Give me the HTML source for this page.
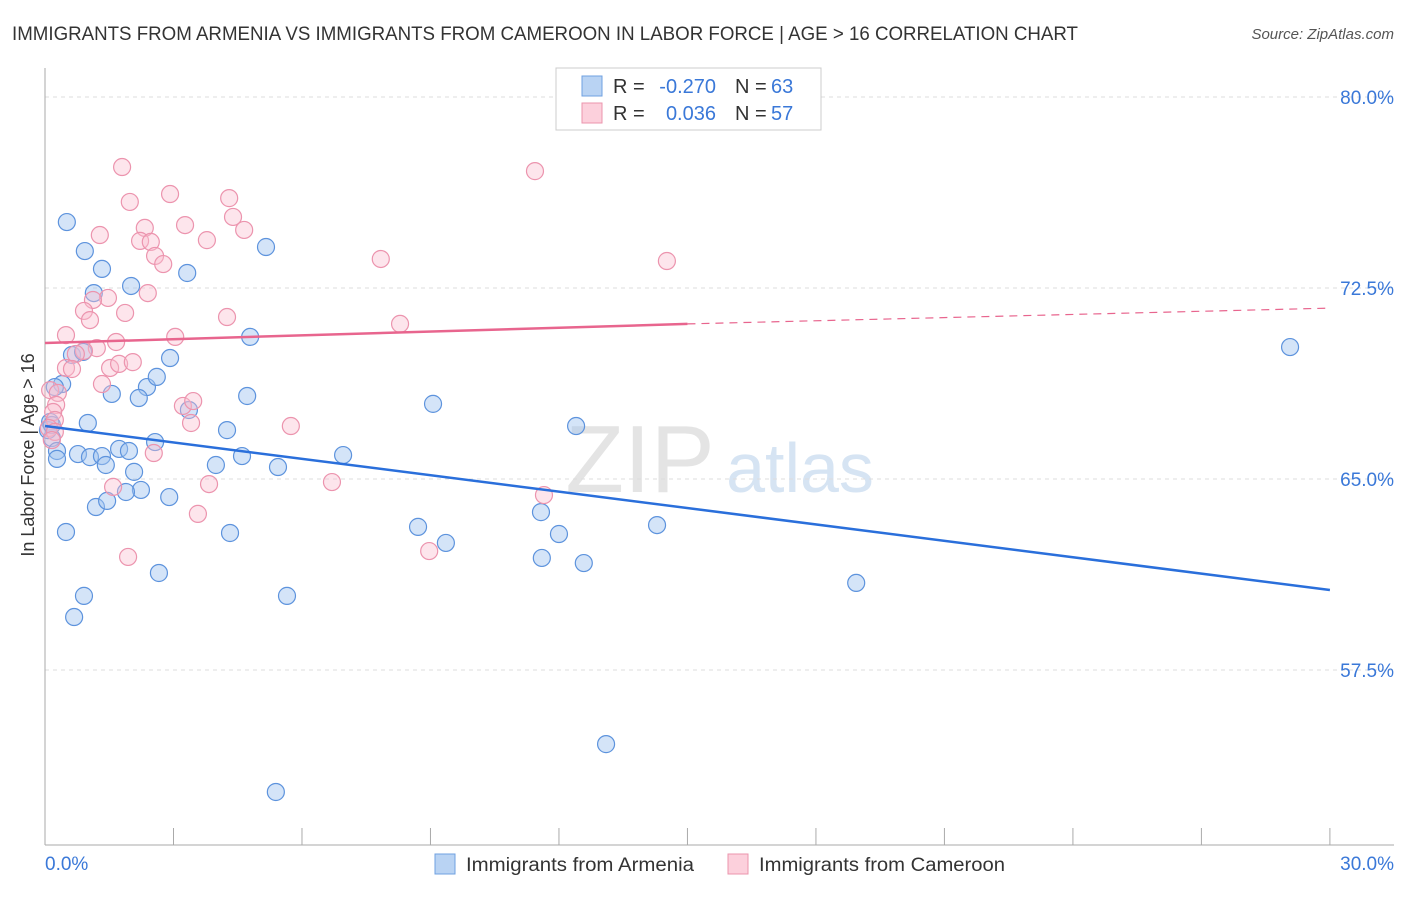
<!DOCTYPE html>
<html><head><meta charset="utf-8"><style>
body{margin:0;background:#fff;font-family:"Liberation Sans",sans-serif}
svg text{font-family:"Liberation Sans",sans-serif}
</style></head><body>
<svg id="chart" width="1406" height="892">
<text x="12" y="40" font-size="19" fill="#333" textLength="1066" lengthAdjust="spacingAndGlyphs">IMMIGRANTS FROM ARMENIA VS IMMIGRANTS FROM CAMEROON IN LABOR FORCE | AGE &gt; 16 CORRELATION CHART</text>
<text x="1394" y="39" font-size="15" fill="#555" font-style="italic" text-anchor="end">Source: ZipAtlas.com</text>
<text x="640" y="492" font-size="96" fill="#e4e4e4" font-family="Liberation Serif" text-anchor="middle">ZIP</text>
<text x="800" y="492" font-size="70" fill="#d6e4f3" text-anchor="middle">atlas</text>
<g id="grid"></g><g id="axes"></g><g id="pts"></g><g id="lines"></g>
<text x="34" y="455" font-size="18" fill="#333" text-anchor="middle" transform="rotate(-90 34 455)">In Labor Force | Age &gt; 16</text>
<text x="45" y="870" font-size="19" fill="#3a78d8">0.0%</text>
<text x="1394" y="870" font-size="19" fill="#3a78d8" text-anchor="end">30.0%</text>
<g>
<rect x="556" y="68" width="265" height="62" fill="#fff" stroke="#ccc"/>
<rect x="582" y="76" width="20" height="20" fill="#b9d3f3" stroke="#6fa0e0"/>
<rect x="582" y="103" width="20" height="20" fill="#fcd0dc" stroke="#eb95ad"/>
<text x="613" y="93" font-size="20" fill="#333">R =</text>
<text x="716" y="93" font-size="20" fill="#3a78d8" text-anchor="end">-0.270</text>
<text x="735" y="93" font-size="20" fill="#333">N =</text>
<text x="771" y="93" font-size="20" fill="#3a78d8">63</text>
<text x="613" y="120" font-size="20" fill="#333">R =</text>
<text x="716" y="120" font-size="20" fill="#3a78d8" text-anchor="end">0.036</text>
<text x="735" y="120" font-size="20" fill="#333">N =</text>
<text x="771" y="120" font-size="20" fill="#3a78d8">57</text>
</g>
<g>
<rect x="435" y="854" width="20" height="20" fill="#b9d3f3" stroke="#6fa0e0"/>
<text x="466" y="871" font-size="19" fill="#333" textLength="228" lengthAdjust="spacingAndGlyphs">Immigrants from Armenia</text>
<rect x="728" y="854" width="20" height="20" fill="#fcd0dc" stroke="#eb95ad"/>
<text x="759" y="871" font-size="19" fill="#333" textLength="246" lengthAdjust="spacingAndGlyphs">Immigrants from Cameroon</text>
</g>
</svg>
<script>
const yTicks=[80,72.5,65,57.5];
const yTickLabels=["80.0%","72.5%","65.0%","57.5%"];
const xTicks=[0,3,6,9,12,15,18,21,24,27,30];
const bluePx=[[67,222],[85,251],[102,269],[94,293],[131,286],[187,273],[266,247],[250,337],[170,358],[72,355],[83,352],[62,384],[55,387],[112,394],[147,387],[157,377],[139,398],[247,396],[189,410],[227,430],[88,423],[50,422],[52,438],[57,451],[57,459],[78,454],[90,457],[102,456],[119,449],[129,451],[106,465],[134,472],[155,442],[216,465],[242,456],[278,467],[343,455],[141,490],[126,492],[96,507],[107,501],[169,497],[66,532],[230,533],[159,573],[84,596],[74,617],[287,596],[433,404],[576,426],[418,527],[446,543],[541,512],[559,534],[542,558],[584,563],[657,525],[856,583],[1290,347],[606,744],[276,792],[48,430],[52,425]];
const pinkPx=[[122,167],[535,171],[130,202],[170,194],[229,198],[145,228],[185,225],[233,217],[100,235],[140,241],[151,242],[155,256],[163,264],[207,240],[244,230],[381,259],[667,261],[148,293],[108,298],[93,300],[84,311],[90,320],[125,313],[227,317],[400,324],[66,335],[175,337],[116,342],[97,348],[84,351],[76,354],[66,368],[72,369],[110,368],[119,364],[133,362],[102,384],[50,390],[58,393],[56,405],[53,412],[55,420],[49,428],[55,432],[183,406],[193,401],[191,423],[291,426],[154,453],[332,482],[209,484],[113,487],[544,495],[198,514],[128,557],[429,551],[52,440]];
// convert read pixel positions to data values (x %, y %)
const armeniaX=bluePx.map(p=>+((p[0]-45)/42.83).toFixed(2));
const armeniaY=bluePx.map(p=>+(80-(p[1]-97)/25.467).toFixed(2));
const cameroonX=pinkPx.map(p=>+((p[0]-45)/42.83).toFixed(2));
const cameroonY=pinkPx.map(p=>+(80-(p[1]-97)/25.467).toFixed(2));
const blueTrend=[[0,67.08],[30,60.64]];
const pinkTrend=[[0,70.34],[15,71.09],[30,71.71]];
const sx=v=>45+v*42.83, sy=v=>97+(80-v)*25.467;
const NS='http://www.w3.org/2000/svg';
function mk(t,a,parent){const e=document.createElementNS(NS,t);for(const k in a)e.setAttribute(k,a[k]);document.getElementById(parent).appendChild(e);return e;}
yTicks.forEach((t,i)=>{
 const g=mk('line',{x1:45,x2:1394,y1:sy(t),y2:sy(t),stroke:'#ddd','stroke-dasharray':'4,4'},'grid');
 
 
 const l=mk('text',{x:1394,y:sy(t)+7,'font-size':19,fill:'#3a78d8','text-anchor':'end'},'axes');
 l.textContent=yTickLabels[i];
 
 
});
const ax=mk('line',{x1:45,x2:45,y1:68,y2:845,stroke:'#aaa'},'axes');


const bx=mk('line',{x1:45,x2:1394,y1:845,y2:845,stroke:'#aaa'},'axes');


xTicks.forEach(t=>{
 const k=mk('line',{x1:sx(t),x2:sx(t),y1:828,y2:845,stroke:'#aaa'},'axes');
 
 
});
armeniaX.forEach((x,i)=>{
 const c=mk('circle',{cx:sx(x),cy:sy(armeniaY[i]),r:8.5,fill:'rgba(160,196,240,0.45)',stroke:'#5d93dd','stroke-width':1.2},'pts');
 
 
});
cameroonX.forEach((x,i)=>{
 const c=mk('circle',{cx:sx(x),cy:sy(cameroonY[i]),r:8.5,fill:'rgba(250,190,208,0.4)',stroke:'#ec94ae','stroke-width':1.2},'pts');
 
 
});
const bl=mk('line',{x1:sx(blueTrend[0][0]),y1:sy(blueTrend[0][1]),x2:sx(blueTrend[1][0]),y2:sy(blueTrend[1][1]),stroke:'#2a6fdb','stroke-width':2.5},'lines');


const pl=mk('line',{x1:sx(pinkTrend[0][0]),y1:sy(pinkTrend[0][1]),x2:sx(pinkTrend[1][0]),y2:sy(pinkTrend[1][1]),stroke:'#e8658e','stroke-width':2.5},'lines');


const pd=mk('line',{x1:sx(pinkTrend[1][0]),y1:sy(pinkTrend[1][1]),x2:sx(pinkTrend[2][0]),y2:sy(pinkTrend[2][1]),stroke:'#e8658e','stroke-width':1.2,'stroke-dasharray':'8,6'},'lines');


</script>
</body></html>
